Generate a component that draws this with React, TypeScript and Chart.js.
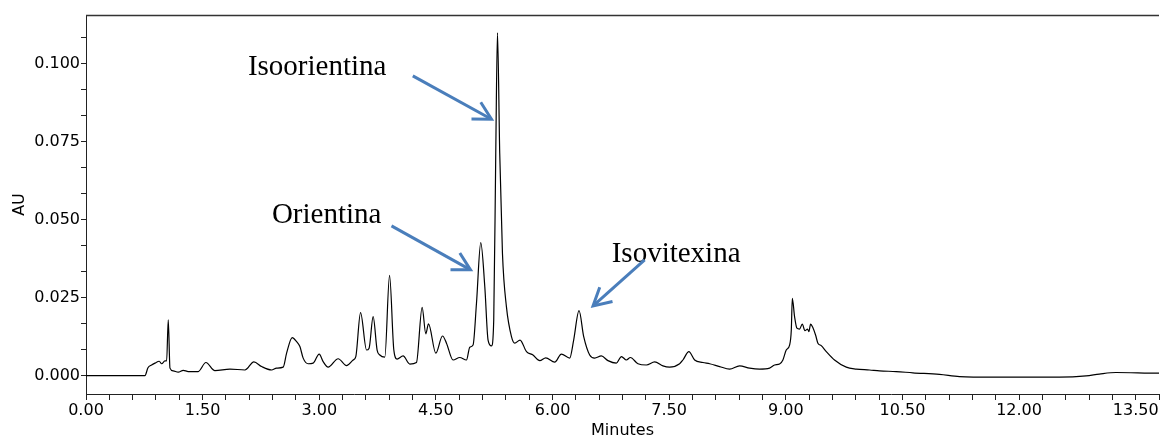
import React, { useEffect, useRef } from 'react';
import { Chart, registerables } from 'chart.js';

Chart.register(...registerables);

// Retention time (minutes)
const times = [
  0, 0.758, 0.797, 0.844, 0.887, 0.942, 0.973, 1.015, 1.037, 1.058, 1.08, 1.122, 1.186, 1.251, 1.315,
  1.443, 1.542, 1.658, 1.851, 2.044, 2.159, 2.258, 2.387, 2.451, 2.536, 2.58, 2.652, 2.708, 2.751,
  2.793, 2.857, 2.922, 2.999, 3.05, 3.114, 3.243, 3.351, 3.436, 3.47, 3.531, 3.608, 3.641, 3.693,
  3.744, 3.779, 3.843, 3.904, 3.959, 4.001, 4.078, 4.165, 4.25, 4.323, 4.37, 4.405, 4.499, 4.585,
  4.636, 4.721, 4.807, 4.893, 4.936, 4.978, 5.022, 5.077, 5.129, 5.171, 5.215, 5.244, 5.27, 5.292,
  5.321, 5.356, 5.407, 5.472, 5.514, 5.582, 5.665, 5.749, 5.836, 5.913, 6.028, 6.114, 6.221, 6.272,
  6.341, 6.401, 6.478, 6.542, 6.628, 6.713, 6.821, 6.886, 6.95, 7.001, 7.099, 7.207, 7.314, 7.42,
  7.506, 7.635, 7.677, 7.754, 7.828, 7.934, 8.021, 8.149, 8.278, 8.406, 8.535, 8.663, 8.792, 8.856,
  8.92, 8.963, 9.006, 9.049, 9.071, 9.084, 9.113, 9.143, 9.177, 9.212, 9.246, 9.28, 9.297, 9.319,
  9.348, 9.383, 9.413, 9.456, 9.521, 9.627, 9.778, 9.906, 10.077, 10.206, 10.42, 10.634, 10.977,
  11.234, 11.662, 12.519, 12.862, 13.033, 13.248, 13.805, 13.9,
];

// Absorbance (AU)
const absorbance = [
  0, 0, 0.0025, 0.0034, 0.004, 0.0046, 0.0038, 0.0047, 0.0047, 0.0179, 0.0024, 0.0015, 0.0011, 0.0017,
  0.0013, 0.0013, 0.0042, 0.0016, 0.0021, 0.0018, 0.0044, 0.0029, 0.0018, 0.0024, 0.0027, 0.0072,
  0.0122, 0.0109, 0.0093, 0.0056, 0.0038, 0.004, 0.0069, 0.0045, 0.0027, 0.0054, 0.0032, 0.005,
  0.0061, 0.0202, 0.0082, 0.0088, 0.0189, 0.0082, 0.0066, 0.0059, 0.0321, 0.0082, 0.0053, 0.0063,
  0.0037, 0.0042, 0.0219, 0.0134, 0.0166, 0.0072, 0.0127, 0.0104, 0.005, 0.0058, 0.005, 0.0091,
  0.0098, 0.0232, 0.0426, 0.0285, 0.0114, 0.0095, 0.0179, 0.0714, 0.1099, 0.0713, 0.0392, 0.0221,
  0.0125, 0.0104, 0.0114, 0.0077, 0.0066, 0.0048, 0.0057, 0.0043, 0.0069, 0.0056, 0.0114, 0.0208,
  0.0125, 0.0066, 0.0056, 0.0063, 0.0048, 0.004, 0.0061, 0.005, 0.0058, 0.0038, 0.0034, 0.0044,
  0.0031, 0.0027, 0.0038, 0.005, 0.0077, 0.005, 0.0042, 0.0038, 0.0029, 0.0021, 0.0031, 0.0024,
  0.0021, 0.0024, 0.0034, 0.0037, 0.005, 0.0082, 0.0098, 0.0146, 0.0248, 0.0189, 0.0152, 0.0149,
  0.0165, 0.0144, 0.0149, 0.0141, 0.0165, 0.0154, 0.013, 0.0104, 0.0096, 0.0077, 0.005, 0.0027,
  0.0021, 0.0018, 0.0015, 0.0013, 0.0009, 0.0004, -0.0003, -0.0005, -0.0005, -0.0001, 0.0005, 0.001,
  0.0008, 0.0008,
];

// Labelled axis ticks
const xMajorTicks = [0, 1.5, 3, 4.5, 6, 7.5, 9, 10.5, 12, 13.5];
const yMajorTicks = [0, 0.025, 0.05, 0.075, 0.1];
const xMinorPerMajor = 5;
const yMinorPerMajor = 3;

// Peak annotations (positions in data units)
const peakNames = ['Isoorientina', 'Orientina', 'Isovitexina'];
const labelTimes = [2.082, 2.391, 6.761];
const labelAU = [0.0964, 0.0489, 0.0364];
const arrowFromTimes = [4.203, 3.929, 7.185];
const arrowFromAU = [0.0961, 0.048, 0.0371];
const arrowToTimes = [5.215, 4.945, 6.521];
const arrowToAU = [0.0822, 0.0339, 0.0223];

const X_MIN = 0;
const X_MAX = 13.8;
const Y_MIN = -0.0059;
const Y_MAX = 0.1156;

function buildTicks(majors: number[], perMajor: number, min: number, max: number) {
  const step = (majors[1] - majors[0]) / perMajor;
  const out: number[] = [];
  for (let i = 0; ; i++) {
    const v = majors[0] + i * step;
    if (v > max + 1e-9) break;
    if (v >= min - 1e-9) out.push(Math.round(v * 1e6) / 1e6);
  }
  return out;
}

const annotationPlugin = {
  id: 'peakAnnotations',
  afterDraw(chart: any) {
    const { ctx, chartArea, scales } = chart;
    const xs = scales.x;
    const ys = scales.y;
    ctx.save();
    // top frame line
    ctx.strokeStyle = '#333';
    ctx.lineWidth = 1.5;
    ctx.beginPath();
    ctx.moveTo(chartArea.left, chartArea.top + 0.5);
    ctx.lineTo(chartArea.right, chartArea.top + 0.5);
    ctx.stroke();

    for (let i = 0; i < peakNames.length; i++) {
      ctx.fillStyle = '#000';
      ctx.font = '29px "Liberation Serif", "Times New Roman", serif';
      ctx.textBaseline = 'alphabetic';
      ctx.textAlign = 'left';
      ctx.fillText(peakNames[i], xs.getPixelForValue(labelTimes[i]), ys.getPixelForValue(labelAU[i]));

      const x1 = xs.getPixelForValue(arrowFromTimes[i]);
      const y1 = ys.getPixelForValue(arrowFromAU[i]);
      const x2 = xs.getPixelForValue(arrowToTimes[i]);
      const y2 = ys.getPixelForValue(arrowToAU[i]);
      const ang = Math.atan2(y2 - y1, x2 - x1);
      const head = 20;
      const spread = 0.5;
      ctx.strokeStyle = '#4a7ebb';
      ctx.lineWidth = 3;
      ctx.lineCap = 'butt';
      ctx.lineJoin = 'miter';
      ctx.beginPath();
      ctx.moveTo(x1, y1);
      ctx.lineTo(x2 - Math.cos(ang) * 2, y2 - Math.sin(ang) * 2);
      ctx.stroke();
      ctx.beginPath();
      ctx.moveTo(x2 - head * Math.cos(ang - spread), y2 - head * Math.sin(ang - spread));
      ctx.lineTo(x2, y2);
      ctx.lineTo(x2 - head * Math.cos(ang + spread), y2 - head * Math.sin(ang + spread));
      ctx.stroke();
    }
    ctx.restore();
  },
};

export default function App() {
  const canvasRef = useRef<HTMLCanvasElement | null>(null);

  useEffect(() => {
    document.body.style.margin = '0';
    const canvas = canvasRef.current;
    if (!canvas) return;
    const xTicks = buildTicks(xMajorTicks, xMinorPerMajor, X_MIN, X_MAX);
    const yTicks = buildTicks(yMajorTicks, yMinorPerMajor, 0, Y_MAX);
    const tickFont = { family: '"DejaVu Sans", Arial, sans-serif', size: 16 };

    const chart = new Chart(canvas, {
      type: 'line',
      data: {
        datasets: [
          {
            data: times.map((t, i) => ({ x: t, y: absorbance[i] })),
            borderColor: '#000',
            borderWidth: 1.2,
            pointRadius: 0,
            fill: false,
            cubicInterpolationMode: 'monotone',
          },
        ],
      },
      options: {
        animation: false,
        responsive: false,
        maintainAspectRatio: false,
        layout: { padding: { top: 15, left: 0, right: 0, bottom: 0 } },
        plugins: { legend: { display: false }, tooltip: { enabled: false } },
        scales: {
          x: {
            type: 'linear',
            min: X_MIN,
            max: X_MAX,
            afterBuildTicks: (scale: any) => {
              scale.ticks = xTicks.map((v) => ({ value: v }));
            },
            afterFit: (scale: any) => {
              scale.height = 45;
            },
            ticks: {
              autoSkip: false,
              maxRotation: 0,
              minRotation: 0,
              padding: 1,
              color: '#000',
              font: tickFont,
              callback: (value: any) => {
                const m = xMajorTicks.find((t) => Math.abs(t - Number(value)) < 1e-6);
                return m !== undefined ? m.toFixed(2) : '';
              },
            },
            grid: { display: true, drawOnChartArea: false, drawTicks: true, tickLength: 6, color: '#222' },
            border: { display: true, color: '#222', width: 1 },
            title: {
              display: true,
              text: 'Minutes',
              color: '#000',
              font: { family: '"DejaVu Sans", Arial, sans-serif', size: 16, lineHeight: 1 },
              padding: { top: 0, bottom: 0 },
            },
          },
          y: {
            type: 'linear',
            min: Y_MIN,
            max: Y_MAX,
            afterBuildTicks: (scale: any) => {
              scale.ticks = yTicks.map((v) => ({ value: v }));
            },
            afterFit: (scale: any) => {
              scale.width = 86;
            },
            ticks: {
              autoSkip: false,
              padding: 1,
              color: '#000',
              font: tickFont,
              callback: (value: any) => {
                const m = yMajorTicks.find((t) => Math.abs(t - Number(value)) < 1e-7);
                return m !== undefined ? m.toFixed(3) : '';
              },
            },
            grid: { display: true, drawOnChartArea: false, drawTicks: true, tickLength: 5, color: '#222' },
            border: { display: true, color: '#222', width: 1 },
            title: {
              display: true,
              text: 'AU',
              color: '#000',
              font: { family: '"DejaVu Sans", Arial, sans-serif', size: 16, lineHeight: 1.2 },
              padding: { top: 10, bottom: 0 },
            },
          },
        },
      },
      plugins: [annotationPlugin],
    } as any);

    return () => {
      chart.destroy();
    };
  }, []);

  return (
    <div style={{ width: 1160, height: 439, background: '#fff' }}>
      <canvas ref={canvasRef} width={1160} height={439} style={{ display: 'block', width: 1160, height: 439 }} />
    </div>
  );
}
